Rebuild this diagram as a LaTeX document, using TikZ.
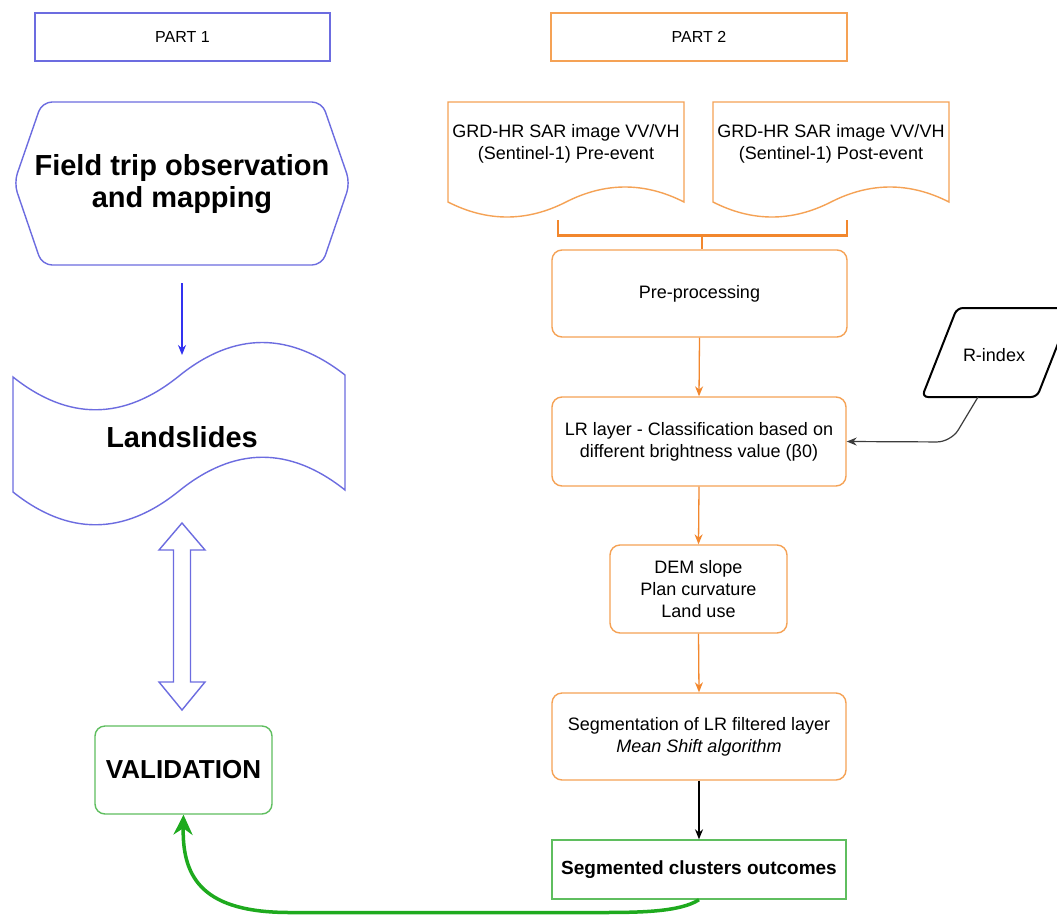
\documentclass[tikz,border=0pt]{standalone}
\usepackage{fontspec}
\setmainfont{Liberation Sans}
\usetikzlibrary{arrows.meta}
\definecolor{pblue}{RGB}{108,108,224}
\definecolor{ablue}{RGB}{50,50,240}
\definecolor{porange}{RGB}{245,162,85}
\definecolor{aorange}{RGB}{242,135,45}
\definecolor{pgreen}{RGB}{95,190,95}
\definecolor{agreen}{RGB}{30,170,30}
\definecolor{rline}{RGB}{60,60,60}
\begin{document}
\begin{tikzpicture}[x=1pt,y=-1pt,
  reg/.style={font=\fontsize{18}{22}\selectfont, align=center, inner sep=0pt},
  box/.style={reg, draw, line width=1.4pt},
  rbox/.style={box, rounded corners=10pt},
  shapeline/.style={line width=1.4pt},
  oarrow/.style={draw=aorange, line width=1.3pt, -{Stealth[length=10pt,width=8pt]}, color=aorange},
  karrow/.style={draw=black, line width=1.2pt, -{Stealth[length=10pt,width=8pt]}},
  bigbold/.style={font=\fontsize{29}{32}\selectfont\bfseries, align=center, inner sep=0pt}
]
\useasboundingbox (0,0) rectangle (1057,916);
\fill[white] (0,0) rectangle (1057,916);

% headers
\node[box, draw=pblue, minimum width=295pt, minimum height=48pt, font=\fontsize{16}{19}\selectfont] (p1) at (182.5,37) {PART 1};
\node[box, draw=porange, minimum width=296pt, minimum height=48pt, font=\fontsize{16}{19}\selectfont] (p2) at (699,37) {PART 2};

% Part 1: field trip (rounded hexagon)
\draw[pblue, shapeline, rounded corners=10pt] (14,183) -- (42,102) -- (322,102) -- (350,183) -- (322,265) -- (42,265) -- cycle;
\node[bigbold] (field) at (182,184) {Field trip observation\\and mapping};
\coordinate (fieldout) at (182,283);
\coordinate (landin) at (182,355);
\draw[ablue, line width=1.3pt, -{Stealth[length=10pt,width=8pt]}] (fieldout) -- (landin);

% Landslides (tape)
\draw[pblue, shapeline] (13,377) .. controls (68.3,421) and (123.7,420.7) .. (179,376)
  .. controls (234.3,331.3) and (289.7,331.7) .. (345,375) -- (345,490)
  .. controls (289.7,446) and (234.3,446.3) .. (179,491)
  .. controls (123.7,535.7) and (68.3,536) .. (13,492) -- cycle;
\node[bigbold] (land) at (182,437) {Landslides};

% hollow double arrow
\coordinate (dtop) at (182,523);
\coordinate (dbot) at (182,710);
\draw[pblue, shapeline, line join=miter] (dtop) -- (205,550) -- (190.5,550) -- (190.5,682) -- (205,682)
  -- (dbot) -- (159,682) -- (173.5,682) -- (173.5,550) -- (159,550) -- cycle;

% Validation
\node[rbox, draw=pgreen, minimum width=177pt, minimum height=88pt, font=\fontsize{26}{30}\selectfont\bfseries] (val) at (183.5,770) {VALIDATION};

% Part 2 documents
\draw[porange, shapeline] (448,102) -- (684,102) -- (684,202)
  .. controls (644.7,182) and (605.3,182) .. (566,202)
  .. controls (526.7,222) and (487.3,222) .. (448,202) -- cycle;
\node[reg] (d1) at (566,144) {GRD-HR SAR image VV/VH\\(Sentinel-1) Pre-event};
\draw[porange, shapeline] (713,102) -- (949,102) -- (949,202)
  .. controls (909.7,182) and (870.3,182) .. (831,202)
  .. controls (791.7,222) and (752.3,222) .. (713,202) -- cycle;
\node[reg] (d2) at (831,144) {GRD-HR SAR image VV/VH\\(Sentinel-1) Post-event};

% Pre-processing
\node[rbox, draw=porange, minimum width=295pt, minimum height=87pt] (pre) at (699.5,293.5) {Pre-processing};

% bracket
\coordinate (t1) at (558,220);
\coordinate (t2) at (847,220);
\coordinate (b1) at (558,235);
\coordinate (b2) at (847,235);
\coordinate (bm) at (702,235);
\draw[aorange, line width=1.5pt] (t1) -- (b1);
\draw[aorange, line width=1.5pt] (t2) -- (b2);
\draw[aorange, line width=3pt] ([xshift=-0.75pt]b1) -- ([xshift=0.75pt]b2);
\draw[aorange, line width=1.5pt] (bm) -- (pre.north -| bm);

% LR layer
\node[rbox, draw=porange, minimum width=294pt, minimum height=89pt] (lr) at (699,441.5) {LR layer - Classification based on\\different brightness value (β0)};
\draw[oarrow] (pre.south) -- (lr.north);

% R-index
\draw[black, line width=2pt, rounded corners=6pt] (922,397) -- (1037,397) -- (1072,308) -- (957,308) -- cycle;
\node[reg] (ridx) at (994,355) {R-index};
\coordinate (rbot) at (978,397);
\draw[rline, line width=1.2pt, rounded corners=14pt, -{Stealth[length=10pt,width=8pt]}] (rbot) -- (951,442) -- (lr.east);

% DEM
\node[rbox, draw=porange, minimum width=177pt, minimum height=88pt] (dem) at (698.5,589) {DEM slope\\Plan curvature\\Land use};
\draw[oarrow] (lr.south) -- (dem.north);

% Segmentation
\node[rbox, draw=porange, minimum width=294pt, minimum height=87pt] (seg) at (699,736.5) {Segmentation of LR filtered layer\\\itshape Mean Shift algorithm};
\draw[oarrow] (dem.south) -- (seg.north);

% Segmented clusters outcomes
\node[box, draw=pgreen, minimum width=294pt, minimum height=59pt, font=\fontsize{19}{22}\selectfont\bfseries] (segd) at (699,869.5) {Segmented clusters outcomes};
\draw[karrow] (seg.south) -- (segd.north);

% green return arrow
\draw[agreen, line width=3.5pt, -{Stealth[length=20pt,width=19pt]}] (segd.south)
  .. controls (680,912) and (640,912.5) .. (600,912.5) -- (290,912.5)
  .. controls (205,912.5) and (182,880) .. (val.south);
\end{tikzpicture}
\end{document}
